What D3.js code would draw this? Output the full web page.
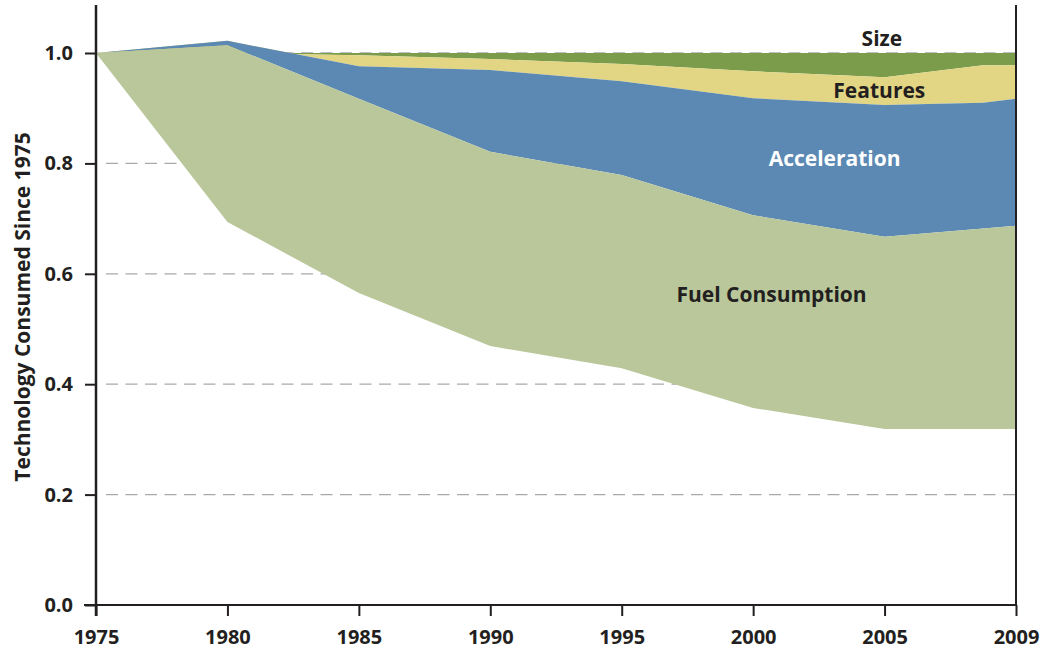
<!DOCTYPE html>
<html>
<head>
<meta charset="utf-8">
<script src="https://cdn.jsdelivr.net/npm/d3@7"></script>
<style>
  body { margin: 0; background: #fff; }
  svg text { font-family: "Open Sans", sans-serif; font-weight: 700; fill: #231f20; }
</style>
</head>
<body>
<svg width="1042" height="653"></svg>
<script>
const svg = d3.select("svg");

// years with a data point (2008 is an extra kink before the last tick)
const years = [1975, 1980, 1985, 1990, 1995, 2000, 2005, 2008, 2009];
// cumulative band edges
const fuelLow     = [1.0, 0.694, 0.565, 0.469, 0.429, 0.357, 0.319, 0.319, 0.319];
const fuelTop     = [1.0, 1.014, 0.917, 0.821, 0.779, 0.706, 0.667, 0.682, 0.687];
const accelTop    = [1.0, 1.022, 0.976, 0.969, 0.949, 0.918, 0.906, 0.910, 0.917];
const featuresTop = [1.0, 1.000, 0.996, 0.989, 0.980, 0.967, 0.956, 0.978, 0.978];
const sizeTop     = [1.0, 1.0, 1.0, 1.0, 1.0, 1.0, 1.0, 1.0, 1.0];

const tickYears = [1975, 1980, 1985, 1990, 1995, 2000, 2005, 2009];
const yTicks = [0, 0.2, 0.4, 0.6, 0.8, 1.0];

const plotL = 96, plotR = 1016, plotT = 53, plotB = 605;
const step = (plotR - plotL) / (tickYears.length - 1);

// evenly spaced year ticks (last step is only 4 years)
const x = d3.scaleLinear()
  .domain(tickYears)
  .range(tickYears.map((d, i) => plotL + i * step));
const y = d3.scaleLinear().domain([0, 1]).range([plotB, plotT]);

// dashed gridlines (under the bands)
svg.append("g")
  .selectAll("line")
  .data(yTicks.filter(d => d > 0))
  .enter()
  .append("line")
  .attr("x1", plotL + 10)
  .attr("x2", plotR)
  .attr("y1", d => y(d))
  .attr("y2", d => y(d))
  .attr("stroke", "#a7a9ac")
  .attr("stroke-width", 1.3)
  .attr("stroke-dasharray", "12,7.5");

const band = (lo, hi) => d3.area()
  .x((d, i) => x(years[i]))
  .y0((d, i) => y(lo[i]))
  .y1((d, i) => y(hi[i]));

const layers = [
  { name: "Size", lo: featuresTop, hi: sizeTop, color: "#7b9d4b" },
  { name: "Features", lo: accelTop, hi: featuresTop, color: "#e2d584" },
  { name: "Acceleration", lo: fuelTop, hi: accelTop, color: "#5b89b3" },
  { name: "Fuel Consumption", lo: fuelLow, hi: fuelTop, color: "#b9c79b" }
];

svg.append("g")
  .selectAll("path")
  .data(layers)
  .enter()
  .append("path")
  .attr("d", d => band(d.lo, d.hi)(years))
  .attr("fill", d => d.color);

// right frame line
svg.append("line")
  .attr("x1", plotR).attr("x2", plotR)
  .attr("y1", 5).attr("y2", plotB)
  .attr("stroke", "#231f20").attr("stroke-width", 2);

// axes
const xAxis = svg.append("g")
  .attr("transform", `translate(0,${plotB})`)
  .call(d3.axisBottom(x).tickValues(tickYears).tickFormat(d3.format("d")).tickSize(11).tickSizeOuter(0));
xAxis.select(".domain").remove();
xAxis.append("line")
  .attr("x1", plotL - 12).attr("x2", plotR)
  .attr("stroke", "#231f20").attr("stroke-width", 2);
xAxis.selectAll(".tick line").attr("stroke", "#231f20").attr("stroke-width", 2);
xAxis.selectAll(".tick text")
  .attr("y", 25)
  .attr("dy", "0.71em")
  .style("font-size", "20px")
  .style("fill", "#231f20");

const yAxis = svg.append("g")
  .attr("transform", `translate(${plotL},0)`)
  .call(d3.axisLeft(y).tickValues(yTicks).tickFormat(d3.format(".1f")).tickSize(11).tickSizeOuter(0));
yAxis.select(".domain").remove();
yAxis.append("line")
  .attr("y1", 5).attr("y2", plotB + 11)
  .attr("stroke", "#231f20").attr("stroke-width", 2.5);
yAxis.selectAll(".tick line").attr("stroke", "#231f20").attr("stroke-width", 2);
yAxis.selectAll(".tick text")
  .attr("x", -23)
  .style("font-size", "20px")
  .style("fill", "#231f20");

// axis title
svg.append("text")
  .attr("transform", `translate(30,${(plotT + plotB) / 2 - 22}) rotate(-90)`)
  .attr("text-anchor", "middle")
  .style("font-size", "21px")
  .text("Technology Consumed Since 1975");

// band labels
const labels = [
  { text: "Size", xv: 2004.9, yv: 1.013, color: "#231f20" },
  { text: "Features", xv: 2004.8, yv: 0.918, color: "#231f20" },
  { text: "Acceleration", xv: 2003.1, yv: 0.795, color: "#ffffff" },
  { text: "Fuel Consumption", xv: 2000.7, yv: 0.549, color: "#231f20" }
];
svg.append("g")
  .selectAll("text")
  .data(labels)
  .enter()
  .append("text")
  .attr("x", d => x(d.xv))
  .attr("y", d => y(d.yv))
  .attr("text-anchor", "middle")
  .style("font-size", "21px")
  .style("fill", d => d.color)
  .text(d => d.text);
</script>
</body>
</html>
